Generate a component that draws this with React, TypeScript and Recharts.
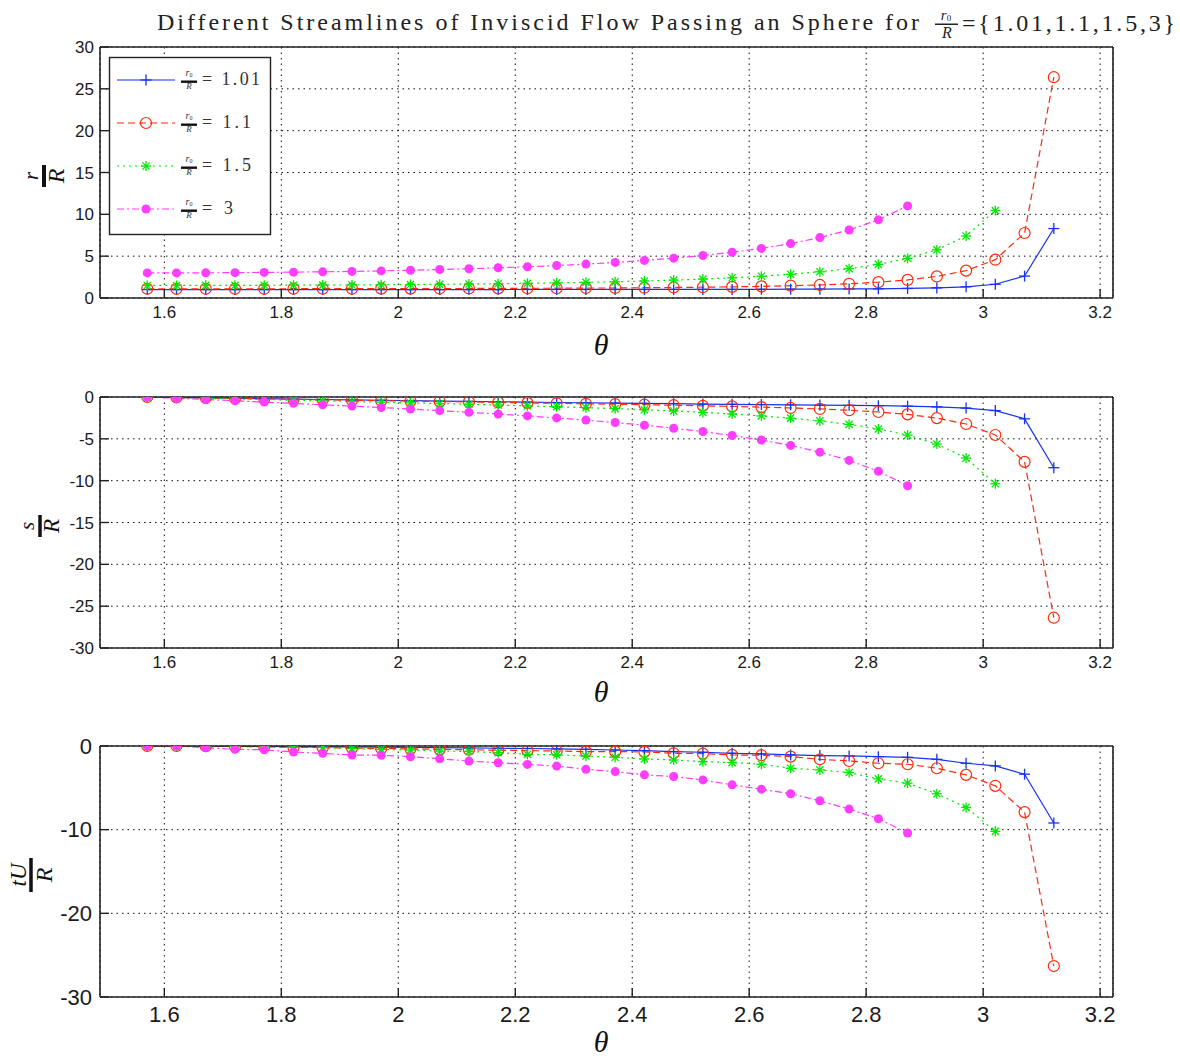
import React from 'react';
import { LineChart, Line, XAxis, YAxis, CartesianGrid } from 'recharts';

// ---------- data ----------
const theta = [
  1.5708, 1.6208, 1.6708, 1.7208, 1.7708, 1.8208, 1.8708, 1.9208, 1.9708, 2.0208, 2.0708,
  2.1208, 2.1708, 2.2208, 2.2708, 2.3208, 2.3708, 2.4208, 2.4708, 2.5208, 2.5708, 2.6208,
  2.6708, 2.7208, 2.7708, 2.8208, 2.8708, 2.9208, 2.9708, 3.0208, 3.0708, 3.1208,
];

// r/R
const rBlue = [1.01, 1.01, 1.01, 1.01, 1.01, 1.01, 1.01, 1.01, 1.01, 1.01, 1.01, 1.01, 1.01, 1.02, 1.02, 1.02, 1.02, 1.02, 1.03, 1.03, 1.03, 1.04, 1.05, 1.06, 1.08, 1.1, 1.14, 1.21, 1.34, 1.64, 2.62, 8.3];
const rRed = [1.1, 1.1, 1.1, 1.1, 1.1, 1.11, 1.11, 1.11, 1.12, 1.12, 1.13, 1.14, 1.15, 1.16, 1.17, 1.19, 1.2, 1.23, 1.26, 1.29, 1.33, 1.39, 1.47, 1.56, 1.7, 1.89, 2.16, 2.58, 3.27, 4.58, 7.77, 26.39];
const rGreen = [1.5, 1.5, 1.51, 1.51, 1.52, 1.53, 1.54, 1.56, 1.58, 1.61, 1.63, 1.67, 1.71, 1.75, 1.81, 1.87, 1.94, 2.03, 2.14, 2.26, 2.42, 2.6, 2.84, 3.13, 3.51, 4.02, 4.73, 5.76, 7.41, 10.45];
const rMagenta = [3.0, 3.0, 3.01, 3.03, 3.06, 3.09, 3.13, 3.18, 3.24, 3.32, 3.4, 3.49, 3.61, 3.73, 3.88, 4.05, 4.25, 4.49, 4.76, 5.08, 5.47, 5.93, 6.5, 7.22, 8.13, 9.34, 11.01];

// s/R
const sBlue = [0, -0.05, -0.1, -0.15, -0.2, -0.25, -0.3, -0.35, -0.39, -0.44, -0.49, -0.53, -0.57, -0.61, -0.66, -0.69, -0.73, -0.77, -0.8, -0.84, -0.87, -0.9, -0.93, -0.97, -1.0, -1.04, -1.1, -1.18, -1.32, -1.62, -2.61, -8.45];
const sRed = [0, -0.06, -0.11, -0.16, -0.22, -0.27, -0.33, -0.38, -0.44, -0.49, -0.54, -0.59, -0.65, -0.7, -0.75, -0.81, -0.86, -0.92, -0.98, -1.05, -1.12, -1.21, -1.31, -1.43, -1.58, -1.79, -2.08, -2.52, -3.23, -4.54, -7.75, -26.38];
const sGreen = [0, -0.08, -0.15, -0.23, -0.3, -0.38, -0.46, -0.54, -0.62, -0.7, -0.78, -0.87, -0.96, -1.06, -1.16, -1.27, -1.39, -1.53, -1.67, -1.84, -2.03, -2.26, -2.53, -2.86, -3.27, -3.82, -4.55, -5.62, -7.3, -10.37];
const sMagenta = [0, -0.15, -0.3, -0.45, -0.61, -0.76, -0.93, -1.09, -1.26, -1.44, -1.63, -1.83, -2.04, -2.26, -2.5, -2.76, -3.05, -3.37, -3.73, -4.13, -4.6, -5.14, -5.79, -6.59, -7.58, -8.87, -10.61];

// tU/R
const tBlue = [0, 0, -0.02, -0.04, -0.06, -0.08, -0.1, -0.12, -0.14, -0.17, -0.2, -0.23, -0.27, -0.3, -0.35, -0.4, -0.48, -0.56, -0.67, -0.75, -0.87, -0.95, -1.07, -1.15, -1.19, -1.27, -1.35, -1.59, -2.06, -2.38, -3.37, -9.2];
const tRed = [0, 0, -0.02, -0.05, -0.1, -0.15, -0.2, -0.25, -0.3, -0.35, -0.4, -0.45, -0.5, -0.55, -0.6, -0.67, -0.67, -0.7, -0.87, -0.9, -1.07, -1.1, -1.27, -1.59, -1.79, -2.06, -2.18, -2.66, -3.45, -4.76, -7.9, -26.3];
const tGreen = [0, 0, -0.02, -0.05, -0.08, -0.12, -0.16, -0.32, -0.4, -0.48, -0.6, -0.65, -0.8, -1.0, -1.05, -1.2, -1.35, -1.55, -1.67, -1.87, -1.98, -2.18, -2.66, -2.86, -3.17, -3.93, -4.44, -5.71, -7.34, -10.2];
const tMagenta = [0, 0, -0.2, -0.4, -0.45, -0.72, -0.88, -1.08, -1.1, -1.28, -1.52, -1.8, -2.0, -2.2, -2.4, -2.78, -3.06, -3.45, -3.65, -4.05, -4.64, -5.16, -5.71, -6.55, -7.54, -8.69, -10.4];

const xTicks = [1.6, 1.8, 2, 2.2, 2.4, 2.6, 2.8, 3, 3.2];
const rTicks = [0, 5, 10, 15, 20, 25, 30];
const sTicks = [-30, -25, -20, -15, -10, -5, 0];
const tTicks = [-30, -20, -10, 0];
const legendValues = ['1.01', '1.1', '1.5', '3'];
const titleText = 'Different Streamlines of Inviscid Flow Passing an Sphere for';
const titleSet = '={1.01,1.1,1.5,3}';

// ---------- styles ----------
const X_DOMAIN: [number, number] = [1.49, 3.222];
const SERIES = [
  { key: 'b', color: '#1533f0', dash: undefined as string | undefined, marker: 'plus' },
  { key: 'r', color: '#ff2a0a', dash: '7 4', marker: 'circle' },
  { key: 'g', color: '#00e800', dash: '2 4', marker: 'star' },
  { key: 'm', color: '#ff3cff', dash: '7 3 2 3', marker: 'dot' },
];
const SERIF = "'Liberation Serif', 'DejaVu Serif', serif";
const SANS = "'Liberation Sans', Arial, sans-serif";

function buildRows(b: number[], r: number[], g: number[], m: number[]) {
  return theta.map((t, i) => ({ theta: t, b: b[i], r: r[i], g: g[i], m: m[i] }));
}

const rowsR = buildRows(rBlue, rRed, rGreen, rMagenta);
const rowsS = buildRows(sBlue, sRed, sGreen, sMagenta);
const rowsT = buildRows(tBlue, tRed, tGreen, tMagenta);

function MarkerShape({ kind, cx, cy, color }: { kind: string; cx: number; cy: number; color: string }) {
  if (cx == null || cy == null || Number.isNaN(cx) || Number.isNaN(cy)) return <g />;
  if (kind === 'plus') {
    return (
      <g>
        <line x1={cx - 5.5} y1={cy} x2={cx + 5.5} y2={cy} stroke={color} strokeWidth={1.3} />
        <line x1={cx} y1={cy - 5.5} x2={cx} y2={cy + 5.5} stroke={color} strokeWidth={1.3} />
      </g>
    );
  }
  if (kind === 'circle') {
    return <circle cx={cx} cy={cy} r={5.5} fill="none" stroke={color} strokeWidth={1.2} />;
  }
  if (kind === 'star') {
    const d = 5;
    const e = 3.6;
    return (
      <g stroke={color} strokeWidth={1.3}>
        <line x1={cx - d} y1={cy} x2={cx + d} y2={cy} />
        <line x1={cx} y1={cy - d} x2={cx} y2={cy + d} />
        <line x1={cx - e} y1={cy - e} x2={cx + e} y2={cy + e} />
        <line x1={cx - e} y1={cy + e} x2={cx + e} y2={cy - e} />
      </g>
    );
  }
  return <circle cx={cx} cy={cy} r={4.5} fill={color} stroke="none" />;
}

type PanelProps = {
  top: number;
  boxTop: number;
  boxBottom: number;
  rows: any[];
  yDomain: [number, number];
  yTicks: number[];
  fontSize: number;
  xTickMargin: number;
  yTickMargin: number;
};

function Panel({ top, boxTop, boxBottom, rows, yDomain, yTicks, fontSize, xTickMargin, yTickMargin }: PanelProps) {
  const height = 345;
  const xAxisH = 40;
  const tickStyle = { fill: '#1a1a1a', fontSize, fontFamily: SANS };
  return (
    <div style={{ position: 'absolute', left: 0, top, width: 1180, height }}>
      <LineChart
        width={1180}
        height={height}
        data={rows}
        margin={{ top: boxTop - top - 1, right: 66, bottom: top + height - boxBottom - xAxisH, left: 40 }}
      >
        <CartesianGrid stroke="#111" strokeDasharray="1.5 4" strokeWidth={1} />
        <XAxis
          dataKey="theta"
          type="number"
          domain={X_DOMAIN}
          ticks={xTicks}
          allowDataOverflow
          height={xAxisH}
          tickSize={-9}
          tickMargin={xTickMargin}
          axisLine={{ stroke: '#222', strokeWidth: 1.6 }}
          tickLine={{ stroke: '#222', strokeWidth: 1.4 }}
          tick={tickStyle}
        />
        <XAxis
          xAxisId="top"
          orientation="top"
          dataKey="theta"
          type="number"
          domain={X_DOMAIN}
          ticks={xTicks}
          allowDataOverflow
          height={1}
          tickSize={-9}
          axisLine={{ stroke: '#222', strokeWidth: 1.6 }}
          tickLine={{ stroke: '#222', strokeWidth: 1.4 }}
          tick={false}
        />
        <YAxis
          type="number"
          domain={yDomain}
          ticks={yTicks}
          allowDataOverflow
          width={60}
          tickSize={-9}
          tickMargin={yTickMargin}
          axisLine={{ stroke: '#222', strokeWidth: 1.6 }}
          tickLine={{ stroke: '#222', strokeWidth: 1.4 }}
          tick={tickStyle}
        />
        <YAxis
          yAxisId="right"
          orientation="right"
          type="number"
          domain={yDomain}
          ticks={yTicks}
          allowDataOverflow
          width={1}
          tickSize={-9}
          axisLine={{ stroke: '#222', strokeWidth: 1.6 }}
          tickLine={{ stroke: '#222', strokeWidth: 1.4 }}
          tick={false}
        />
        {SERIES.map((s) => (
          <Line
            key={s.key}
            type="linear"
            dataKey={s.key}
            stroke={s.color}
            strokeWidth={1.2}
            strokeDasharray={s.dash}
            connectNulls={false}
            activeDot={false}
            isAnimationActive={false}
            dot={(p: any) => (
              <MarkerShape key={`${s.key}-${p.index}`} kind={s.marker} cx={p.cx} cy={p.cy} color={s.color} />
            )}
          />
        ))}
      </LineChart>
    </div>
  );
}

function Fraction({ cx, cy, num, den, numSize, denSize, barLen, barH, numBase, denBase, rotate }: any) {
  return (
    <g transform={`translate(${cx},${cy}) rotate(${rotate})`} fontFamily={SERIF} fill="#111">
      <text x={0} y={numBase} fontSize={numSize} fontStyle="italic" textAnchor="middle">{num}</text>
      <rect x={-barLen / 2} y={-barH / 2} width={barLen} height={barH} fill="#111" />
      <text x={0} y={denBase} fontSize={denSize} fontStyle="italic" textAnchor="middle">{den}</text>
    </g>
  );
}

function Overlay() {
  const legendYs = [80, 123, 166, 209];
  return (
    <svg
      width={1180}
      height={1059}
      style={{ position: 'absolute', left: 0, top: 0, pointerEvents: 'none' }}
    >
      {/* title */}
      <text x={157} y={30} fontFamily={SERIF} fontSize={24} fill="#222" textLength={762} lengthAdjust="spacing">
        {titleText}
      </text>
      <g fontFamily={SERIF} fill="#222">
        <text x={946} y={20} fontSize={15} fontStyle="italic" textAnchor="middle">
          r<tspan fontSize={9} fontStyle="normal" dy={1}>0</tspan>
        </text>
        <rect x={935} y={23.5} width={23} height={1.5} fill="#222" />
        <text x={947} y={38} fontSize={16} fontStyle="italic" textAnchor="middle">R</text>
      </g>
      <text x={962} y={31} fontFamily={SERIF} fontSize={24} fill="#222" textLength={213} lengthAdjust="spacing">
        {titleSet}
      </text>

      {/* legend */}
      <rect x={109.5} y={57.5} width={161} height={177} fill="#fff" stroke="#222" strokeWidth={1.4} />
      {legendYs.map((y, i) => {
        const s = SERIES[i];
        return (
          <g key={s.key}>
            <line x1={117} y1={y} x2={175} y2={y} stroke={s.color} strokeWidth={1.2} strokeDasharray={s.dash} />
            <MarkerShape kind={s.marker} cx={146} cy={y} color={s.color} />
            <g fontFamily={SERIF} fill="#333">
              <text x={189} y={y - 4} fontSize={10} fontStyle="italic" textAnchor="middle">
                r<tspan fontSize={6} fontStyle="normal" dy={1}>0</tspan>
              </text>
              <rect x={181} y={y + 0.5} width={16} height={2.4} fill="#111" />
              <text x={189} y={y + 9} fontSize={9} fontStyle="italic" textAnchor="middle">R</text>
              <text x={202} y={y + 5} fontSize={18} textLength={legendValues[i].length * 9 + 22} lengthAdjust="spacing">
                {'= ' + legendValues[i]}
              </text>
            </g>
          </g>
        );
      })}

      {/* y labels */}
      <Fraction cx={44} cy={176} num="r" den="R" numSize={21} denSize={24} barLen={22} barH={4} numBase={-6} denBase={20} rotate={-90} />
      <Fraction cx={40} cy={526} num="s" den="R" numSize={21} denSize={23} barLen={22} barH={3.5} numBase={-6} denBase={19} rotate={-90} />
      <Fraction cx={31} cy={875} num="tU" den="R" numSize={23} denSize={24} barLen={34} barH={3.5} numBase={-5} denBase={21} rotate={-90} />

      {/* x labels */}
      <text x={601} y={355} fontFamily={SERIF} fontSize={30} fontStyle="italic" textAnchor="middle" fill="#111">θ</text>
      <text x={601} y={702} fontFamily={SERIF} fontSize={30} fontStyle="italic" textAnchor="middle" fill="#111">θ</text>
      <text x={601} y={1052} fontFamily={SERIF} fontSize={30} fontStyle="italic" textAnchor="middle" fill="#111">θ</text>
    </svg>
  );
}

export default function App() {
  return (
    <div style={{ position: 'absolute', left: 0, top: 0, width: 1180, height: 1059, background: '#fff', overflow: 'hidden' }}>
      <Panel top={0} boxTop={47} boxBottom={298} rows={rowsR} yDomain={[0, 30]} yTicks={rTicks} fontSize={17} xTickMargin={17} yTickMargin={15} />
      <Panel top={350} boxTop={397} boxBottom={648} rows={rowsS} yDomain={[-30, 0]} yTicks={sTicks} fontSize={17} xTickMargin={17} yTickMargin={15} />
      <Panel top={700} boxTop={746} boxBottom={997} rows={rowsT} yDomain={[-30, 0]} yTicks={tTicks} fontSize={22} xTickMargin={18} yTickMargin={17} />
      <Overlay />
    </div>
  );
}
